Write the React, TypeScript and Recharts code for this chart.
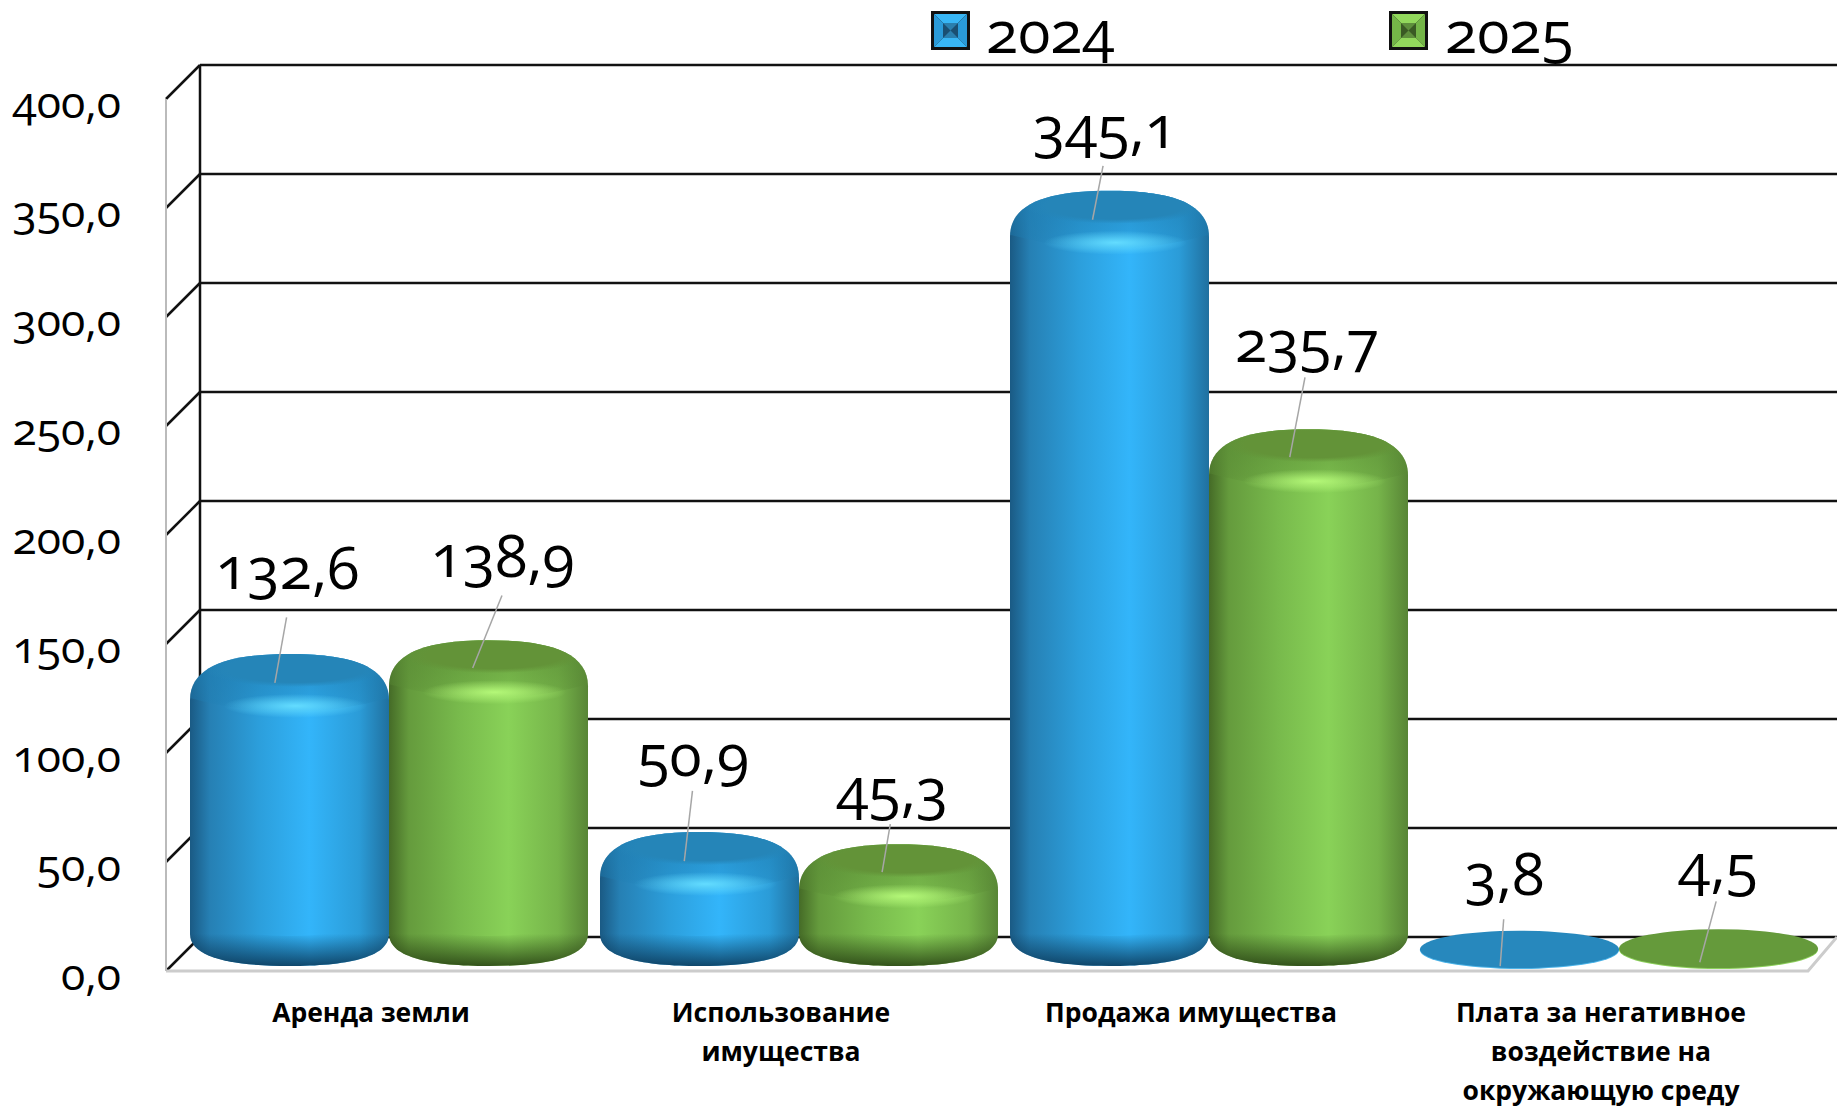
import {BarChart, Bar, XAxis, YAxis, CartesianGrid, Legend, LabelList} from 'recharts';

const categories = ['Аренда земли', 'Использование\nимущества', 'Продажа имущества', 'Плата за негативное\nвоздействие на\nокружающую среду'];
const values2024 = [132.6, 50.9, 345.1, 3.8];
const values2025 = [138.9, 45.3, 235.7, 4.5];
const yTicks = [0, 50, 100, 150, 200, 250, 300, 350, 400];

const data = categories.map((category, i) => ({category, y2024: values2024[i], y2025: values2025[i]}));

const WIDTH = 1837;
const HEIGHT = 1108;
const TOP = 86;
const XAXIS_H = 150;
const PLOT_H = HEIGHT - TOP - XAXIS_H;
const DIGITS = "'Open Sans', sans-serif";

// label centre and leader line, relative to bar centre / value position
const K = 1.1716;
const notes2024 = [
    {lx: -3.5, ly: -80, a: [-2.5, -44], b: [-12.5, 12]},
    {lx: -7, ly: -73, a: [-6, -48], b: [-13, 12]},
    {lx: -5.5, ly: -61, a: [-5.5, -34], b: [-14.5, 12]},
    {lx: -14.5, ly: -59, a: [-13.5, -26], b: [-16.5, 14]},
];
const notes2025 = [
    {lx: 10.5, ly: -79, a: [11.5, -51], b: [-13.5, 11]},
    {lx: -7, ly: -54, a: [-7, -30], b: [-14, 11]},
    {lx: -3, ly: -82, a: [-3, -57], b: [-16, 11]},
    {lx: -2, ly: -65, a: [-2, -40], b: [-16, 12]},
];

const legendSpots = [
    {marker: 931, text: 986},
    {marker: 1389, text: 1445},
];

function wallLines(props: any) {
    const {x1, x2, y1, key} = props;
    const y = Math.round(y1);
    const isFloor = y === TOP + PLOT_H;
    const isTop = y === TOP;
    return (
        <g key={key}>
            <line x1={x1 + 16} y1={y - 21} x2={WIDTH} y2={y - 21} stroke="#111" strokeWidth={2.5}/>
            <line x1={x1 - 18} y1={y + 13} x2={x1 + 16} y2={y - 21} stroke="#111" strokeWidth={2.5}/>
            {isTop && <line x1={x1 + 16} y1={y - 21} x2={x1 + 16} y2={y - 21 + PLOT_H} stroke="#111" strokeWidth={2.5}/>}
            {isTop && <line x1={x1 - 18} y1={y + 13} x2={x1 - 18} y2={y + 13 + PLOT_H} stroke="#bbb" strokeWidth={2}/>}
            {isFloor && (
                <polyline
                    points={`${x1 - 18},${y + 13} ${x2 - 16},${y + 13} ${x2 + 13},${y - 21}`}
                    fill="none"
                    stroke="#ccc"
                    strokeWidth={3}
                />
            )}
        </g>
    );
}

function Cylinder(props: any) {
    const {x, y, width: w, height: h, tone, index} = props;
    const cx = x + w / 2;
    const top = y - 15;
    const bottom = y + h + 8;

    if (h < 20) {
        const flatTop = y - 19;
        const ry = (bottom + 2 - flatTop) / 2;
        return (
            <g>
                <ellipse cx={cx} cy={flatTop + ry + 1} rx={w / 2} ry={ry} fill={tone === 'blue' ? '#4db4e8' : '#8ccf5c'}/>
                <ellipse cx={cx} cy={flatTop + ry} rx={w / 2} ry={ry} fill={tone === 'blue' ? '#2788bd' : '#659a3b'}/>
            </g>
        );
    }

    const outline = `M${x},${top + 46} C${x},${top + 10} ${x + w * 0.22},${top} ${cx},${top}
        C${x + w * 0.78},${top} ${x + w},${top + 10} ${x + w},${top + 46}
        L${x + w},${bottom - 32} C${x + w},${bottom - 8} ${x + w * 0.78},${bottom} ${cx},${bottom}
        C${x + w * 0.22},${bottom} ${x},${bottom - 8} ${x},${bottom - 32} Z`;
    const clipId = `clip-${tone}-${index}`;

    return (
        <g>
            <clipPath id={clipId}>
                <path d={outline}/>
            </clipPath>
            <path d={outline} fill={`url(#side-${tone})`}/>
            <g clipPath={`url(#${clipId})`}>
                <path
                    d={`M${x},${bottom - 46} Q${cx},${bottom - 14} ${x + w},${bottom - 46} V${bottom} H${x} Z`}
                    fill={`url(#foot-${tone})`}
                />
                <path
                    d={`M${x},${top} H${x + w} V${top + 44} Q${cx},${top + 72} ${x},${top + 44} Z`}
                    fill={`url(#bevel-${tone})`}
                />
                <ellipse cx={cx + 6} cy={top + 15} rx={w * 0.46} ry={18} fill={`url(#cap-${tone})`}/>
                <ellipse cx={cx + 6} cy={top + 52} rx={w * 0.36} ry={12} fill={`url(#shine-${tone})`}/>
            </g>
        </g>
    );
}

function ValueNote(notes: any[]) {
    return (props: any) => {
        const {x, y, width, value, index} = props;
        const note = notes[index];
        const cx = x + width / 2;
        return (
            <g>
                <line
                    x1={cx + note.a[0] * K}
                    y1={y + note.a[1] * K}
                    x2={cx + note.b[0] * K}
                    y2={y + note.b[1] * K}
                    stroke="#a6a6a6"
                    strokeWidth={1.5}
                />
                <text
                    x={cx + note.lx * K + 2}
                    y={y + note.ly * K - 9}
                    textAnchor="middle"
                    dominantBaseline="central"
                    fontFamily={DIGITS}
                    fontSize={59}
                    fill="#000"
                    style={{fontVariantNumeric: 'oldstyle-nums'}}
                >
                    {value.toFixed(1).replace('.', ',')}
                </text>
            </g>
        );
    };
}

function YTick(props: any) {
    const {y, payload} = props;
    return (
        <text
            x={121}
            y={y + 14}
            textAnchor="end"
            dominantBaseline="central"
            fontFamily={DIGITS}
            fontSize={44.5}
            fill="#000"
            style={{fontVariantNumeric: 'oldstyle-nums'}}
        >
            {payload.value.toFixed(1).replace('.', ',')}
        </text>
    );
}

function XTick(props: any) {
    const {x, payload} = props;
    return (
        <text textAnchor="middle" fontFamily="'Open Sans', sans-serif" fontWeight={700} fontSize={26.5} fill="#000">
            {payload.value.split('\n').map((line: string, i: number) => (
                <tspan key={i} x={x - 18} y={1022 + i * 39}>{line}</tspan>
            ))}
        </text>
    );
}

function LegendMarker({light, mid, dark, core}: {light: string, mid: string, dark: string, core: string}) {
    return (
        <svg width={39} height={39} style={{display: 'block'}}>
            <rect x={0} y={0} width={39} height={39} fill="#111"/>
            <polygon points="3,3 36,3 27,12 12,12" fill={light}/>
            <polygon points="3,3 12,12 12,27 3,36" fill={mid}/>
            <polygon points="36,3 27,12 27,27 36,36" fill={mid}/>
            <polygon points="3,36 12,27 27,27 36,36" fill={light}/>
            <rect x={12} y={12} width={15} height={15} fill={core}/>
            <polygon points="12,12 19.5,19.5 12,27" fill={dark}/>
            <polygon points="27,12 19.5,19.5 27,27" fill={dark}/>
        </svg>
    );
}

function renderLegend(props: any) {
    const {payload} = props;
    return (
        <div style={{position: 'relative', height: 0}}>
            {(payload || []).map((item: any, i: number) => (
                <div key={item.value}>
                    <div style={{position: 'absolute', left: legendSpots[i].marker, top: 11}}>
                        {i === 0
                            ? <LegendMarker light="#38b6f5" mid="#2a9ad8" dark="#1a4f72" core="#2a7fae"/>
                            : <LegendMarker light="#92d85c" mid="#74b548" dark="#3a5a24" core="#5e8f3c"/>}
                    </div>
                    <div
                        style={{
                            position: 'absolute',
                            left: legendSpots[i].text,
                            top: 0,
                            fontFamily: DIGITS,
                            fontSize: 59,
                            lineHeight: '60px',
                            color: '#000',
                            fontVariantNumeric: 'oldstyle-nums',
                        }}
                    >
                        {item.value}
                    </div>
                </div>
            ))}
        </div>
    );
}

export default function App() {
    return (
        <div style={{position: 'absolute', left: 0, top: 0, width: WIDTH, height: HEIGHT, background: '#fff', overflow: 'hidden'}}>
            <BarChart
                width={WIDTH}
                height={HEIGHT}
                data={data}
                margin={{top: TOP, right: 13, bottom: 0, left: 0}}
                barGap={0}
                barCategoryGap={6}
            >
                <defs>
                    <linearGradient id="side-blue" x1="0" y1="0" x2="1" y2="0">
                        <stop offset="0%" stopColor="#1a5a84"/>
                        <stop offset="10%" stopColor="#2680b4"/>
                        <stop offset="35%" stopColor="#2c9fdc"/>
                        <stop offset="60%" stopColor="#33b5fa"/>
                        <stop offset="85%" stopColor="#2b9cd8"/>
                        <stop offset="100%" stopColor="#20709f"/>
                    </linearGradient>
                    <linearGradient id="side-green" x1="0" y1="0" x2="1" y2="0">
                        <stop offset="0%" stopColor="#456b27"/>
                        <stop offset="10%" stopColor="#659b3d"/>
                        <stop offset="35%" stopColor="#78ba4c"/>
                        <stop offset="60%" stopColor="#89d258"/>
                        <stop offset="85%" stopColor="#76b44a"/>
                        <stop offset="100%" stopColor="#588536"/>
                    </linearGradient>
                    <linearGradient id="foot-blue" x1="0" y1="0" x2="0" y2="1">
                        <stop offset="30%" stopColor="#0a3554" stopOpacity={0}/>
                        <stop offset="100%" stopColor="#0a3554" stopOpacity={0.85}/>
                    </linearGradient>
                    <linearGradient id="foot-green" x1="0" y1="0" x2="0" y2="1">
                        <stop offset="30%" stopColor="#263f12" stopOpacity={0}/>
                        <stop offset="100%" stopColor="#263f12" stopOpacity={0.85}/>
                    </linearGradient>
                    <linearGradient id="bevel-blue" x1="0" y1="0" x2="0" y2="1">
                        <stop offset="0%" stopColor="#1f7fb4" stopOpacity={0.75}/>
                        <stop offset="80%" stopColor="#1f7fb4" stopOpacity={0.35}/>
                        <stop offset="100%" stopColor="#1f7fb4" stopOpacity={0}/>
                    </linearGradient>
                    <linearGradient id="bevel-green" x1="0" y1="0" x2="0" y2="1">
                        <stop offset="0%" stopColor="#5a8c35" stopOpacity={0.75}/>
                        <stop offset="80%" stopColor="#5a8c35" stopOpacity={0.35}/>
                        <stop offset="100%" stopColor="#5a8c35" stopOpacity={0}/>
                    </linearGradient>
                    <radialGradient id="cap-blue">
                        <stop offset="75%" stopColor="#2585b8"/>
                        <stop offset="100%" stopColor="#2585b8" stopOpacity={0}/>
                    </radialGradient>
                    <radialGradient id="cap-green">
                        <stop offset="75%" stopColor="#639338"/>
                        <stop offset="100%" stopColor="#639338" stopOpacity={0}/>
                    </radialGradient>
                    <radialGradient id="shine-blue">
                        <stop offset="0%" stopColor="#63dcff"/>
                        <stop offset="100%" stopColor="#63dcff" stopOpacity={0}/>
                    </radialGradient>
                    <radialGradient id="shine-green">
                        <stop offset="0%" stopColor="#b4f878"/>
                        <stop offset="100%" stopColor="#b4f878" stopOpacity={0}/>
                    </radialGradient>
                </defs>
                <CartesianGrid horizontal={wallLines} vertical={false}/>
                <XAxis dataKey="category" height={XAXIS_H} interval={0} axisLine={false} tickLine={false} tick={XTick}/>
                <YAxis width={184} domain={[0, 400]} ticks={yTicks} axisLine={false} tickLine={false} tick={YTick}/>
                <Legend content={renderLegend} verticalAlign="top" wrapperStyle={{left: 0, top: 0, width: WIDTH, height: 0}}/>
                <Bar
                    dataKey="y2024"
                    name="2024"
                    fill="#33b5fa"
                    isAnimationActive={false}
                    shape={(p: any) => <Cylinder {...p} tone="blue"/>}
                >
                    <LabelList dataKey="y2024" content={ValueNote(notes2024)}/>
                </Bar>
                <Bar
                    dataKey="y2025"
                    name="2025"
                    fill="#89d258"
                    isAnimationActive={false}
                    shape={(p: any) => <Cylinder {...p} tone="green"/>}
                >
                    <LabelList dataKey="y2025" content={ValueNote(notes2025)}/>
                </Bar>
            </BarChart>
        </div>
    );
}
